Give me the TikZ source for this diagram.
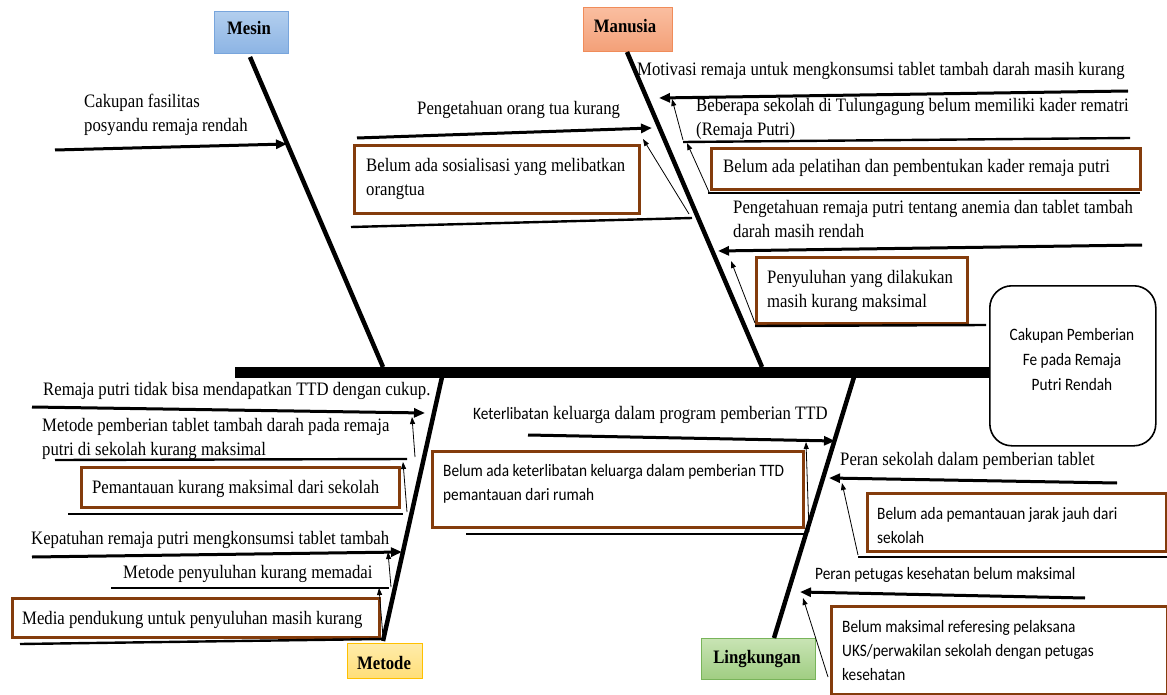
\documentclass[tikz,border=0pt]{standalone}
\usepackage{fontspec}
\setmainfont[FakeStretch=0.88]{Liberation Serif}
\setsansfont[FakeStretch=0.88]{Carlito}
\usetikzlibrary{arrows.meta}
\definecolor{brownb}{RGB}{132,60,12}
\definecolor{blueT}{RGB}{178,206,238}
\definecolor{blueB}{RGB}{140,180,228}
\definecolor{blueD}{RGB}{120,165,220}
\definecolor{orgT}{RGB}{250,190,160}
\definecolor{orgB}{RGB}{243,160,120}
\definecolor{orgD}{RGB}{240,140,90}
\definecolor{yelT}{RGB}{255,236,170}
\definecolor{yelB}{RGB}{255,222,120}
\definecolor{yelD}{RGB}{255,192,0}
\definecolor{grnT}{RGB}{200,228,180}
\definecolor{grnB}{RGB}{160,205,130}
\definecolor{grnD}{RGB}{120,180,90}
\begin{document}
\begin{tikzpicture}[x=1pt,y=-1pt,
  spine/.style={line width=11pt},
  bone/.style={line width=4.5pt},
  causearrow/.style={line width=3pt,-{Triangle[length=11pt,width=9pt]}},
  subline/.style={line width=2.4pt},
  thinarrow/.style={line width=0.8pt,-{Triangle[length=7pt,width=5pt]}},
  bbox/.style={draw=brownb,line width=3pt,fill=white,anchor=north west,inner sep=0pt},
  catbox/.style={line width=1.2pt,anchor=north west,inner sep=0pt},
  cattxt/.style={anchor=base,inner sep=0pt,font=\bfseries\fontsize{19}{24}\selectfont},
  txt/.style={anchor=base west,inner sep=0pt,align=left,font=\fontsize{19}{24}\selectfont},
  stxt/.style={anchor=base west,inner sep=0pt,align=left,font=\sffamily\fontsize{17.4}{24}\selectfont}
]
\useasboundingbox (0,0) rectangle (1167,695);
\fill[white] (0,0) rectangle (1167,695);

% ---------- category boxes ----------
\node[catbox,draw=blueD,top color=blueT,bottom color=blueB,minimum width=74pt,minimum height=42pt] (mesin) at (214,11) {};
\node[cattxt] (mesinT) at (249,35) {Mesin};
\node[catbox,draw=orgD,top color=orgT,bottom color=orgB,minimum width=89pt,minimum height=44pt] (manusia) at (583,7) {};
\node[cattxt] (manusiaT) at (625,33) {Manusia};
\node[catbox,draw=yelD,top color=yelT,bottom color=yelB,minimum width=75pt,minimum height=35pt] (metode) at (347,643) {};
\node[cattxt] (metodeT) at (384,669) {Metode};
\node[catbox,draw=grnD,top color=grnT,bottom color=grnB,minimum width=114pt,minimum height=41pt] (lingk) at (701,638) {};
\node[cattxt] (lingkT) at (757,663) {Lingkungan};

% ---------- head ----------
\node[draw,line width=1.6pt,rounded corners=22pt,anchor=north west,minimum width=166pt,minimum height=160pt,inner sep=0pt] (head) at (989,285) {};
\node[anchor=base,inner sep=0pt,align=center,font=\sffamily\fontsize{17.4}{25}\selectfont] (headT) at (1072,390) {Cakupan Pemberian\\Fe pada Remaja\\Putri Rendah};

% ---------- bone coordinates ----------
\coordinate (m0) at (250,57);  \coordinate (m1) at (383,367);
\coordinate (u0) at (627,52);  \coordinate (u1) at (762,367);
\coordinate (t0) at (383,641); \coordinate (t1) at (442,377);
\coordinate (l0) at (774,638); \coordinate (l1) at (854,377);
\coordinate (sp0) at (235,372); \coordinate (sp1) at (990,372);

\draw[bone] (m0) -- (m1);
\draw[bone] (u0) -- (u1);
\draw[bone] (t0) -- (t1);
\draw[bone] (l0) -- (l1);
\draw[spine] (sp0) -- (sp1);

% ---------- Mesin ----------
\coordinate (a1s) at (55,150); \coordinate (a1e) at (287,144);
\draw[causearrow] (a1s) -- (a1e);
\node[txt] (c1) at (84,132) {Cakupan fasilitas\\posyandu remaja rendah};

% ---------- Manusia left ----------
\coordinate (a2s) at (357,138); \coordinate (a2e) at (652,128);
\draw[causearrow] (a2s) -- (a2e);
\node[txt] (c2) at (417,115) {Pengetahuan orang tua kurang};
\node[bbox,minimum width=285pt,minimum height=68pt] (B2) at (353,144) {};
\node[txt] (c2b) at (366,196) {Belum ada sosialisasi yang melibatkan\\orangtua};
\coordinate (L2s) at (351,227); \coordinate (L2e) at (692,218);
\draw[subline] (L2s) -- (L2e);
\coordinate (t2s) at (689,214); \coordinate (t2e) at (643,139);
\draw[thinarrow] (t2s) -- (t2e);

% ---------- Manusia right ----------
\coordinate (a3s) at (1128,91); \coordinate (a3e) at (659,98);
\draw[causearrow] (a3s) -- (a3e);
\node[txt] (c3) at (637,76) {Motivasi remaja untuk mengkonsumsi tablet tambah darah masih kurang};
\node[txt] (c3a) at (696,136) {Beberapa sekolah di Tulungagung belum memiliki kader rematri\\(Remaja Putri)};
\coordinate (L3s) at (683,142); \coordinate (L3e) at (1130,138);
\draw[subline] (L3s) -- (L3e);
\coordinate (t3s) at (683,140); \coordinate (t3e) at (672,99);
\draw[thinarrow] (t3s) -- (t3e);
\node[bbox,minimum width=429pt,minimum height=41pt] (B3) at (710,147) {};
\node[txt] (c3b) at (723,173) {Belum ada pelatihan dan pembentukan kader remaja putri};
\coordinate (L3bs) at (708,193); \coordinate (L3be) at (1140,193);
\draw[subline] (L3bs) -- (L3be);
\coordinate (t3bs) at (709,192); \coordinate (t3be) at (687,143);
\draw[thinarrow] (t3bs) -- (t3be);

\coordinate (a4s) at (1142,245); \coordinate (a4e) at (718,251);
\draw[causearrow] (a4s) -- (a4e);
\node[txt] (c4) at (733,237) {Pengetahuan remaja putri tentang anemia dan tablet tambah\\darah masih rendah};
\node[bbox,minimum width=211pt,minimum height=66pt] (B4) at (755,256) {};
\node[txt] (c4b) at (767,307) {Penyuluhan yang dilakukan\\masih kurang maksimal};
\coordinate (L4s) at (755,326); \coordinate (L4e) at (986,325);
\draw[subline] (L4s) -- (L4e);
\coordinate (t4s) at (755,323); \coordinate (t4e) at (731,261);
\draw[thinarrow] (t4s) -- (t4e);

% ---------- Metode ----------
\coordinate (a5s) at (32,407); \coordinate (a5e) at (425,413);
\draw[causearrow] (a5s) -- (a5e);
\node[txt] (c5) at (43,395) {Remaja putri tidak bisa mendapatkan TTD dengan cukup.};
\node[txt] (c5a) at (42,455) {Metode pemberian tablet tambah darah pada remaja\\putri di sekolah kurang maksimal};
\coordinate (L5s) at (55,460); \coordinate (L5e) at (407,459);
\draw[subline] (L5s) -- (L5e);
\coordinate (t5s) at (415,457); \coordinate (t5e) at (412,417);
\draw[thinarrow] (t5s) -- (t5e);
\node[bbox,minimum width=318pt,minimum height=40pt] (B5) at (80,466) {};
\node[txt] (c5b) at (92,493) {Pemantauan kurang maksimal dari sekolah};
\coordinate (L5bs) at (68,514); \coordinate (L5be) at (403,514);
\draw[subline] (L5bs) -- (L5be);
\coordinate (t5bs) at (407,512); \coordinate (t5be) at (403,462);
\draw[thinarrow] (t5bs) -- (t5be);

\coordinate (a6s) at (32,557); \coordinate (a6e) at (402,552);
\draw[causearrow] (a6s) -- (a6e);
\node[txt] (c6) at (31,544) {Kepatuhan remaja putri mengkonsumsi tablet tambah};
\node[txt] (c6a) at (123,578) {Metode penyuluhan kurang memadai};
\coordinate (L6s) at (111,588); \coordinate (L6e) at (389,588);
\draw[subline] (L6s) -- (L6e);
\coordinate (t6s) at (391,587); \coordinate (t6e) at (388,552);
\draw[thinarrow] (t6s) -- (t6e);
\node[bbox,minimum width=367pt,minimum height=39pt] (B6) at (11,597) {};
\node[txt] (c6b) at (22,624) {Media pendukung untuk penyuluhan masih kurang};
\coordinate (L6bs) at (20,644); \coordinate (L6be) at (383,639);
\draw[subline] (L6bs) -- (L6be);
\coordinate (t6bs) at (383,637); \coordinate (t6be) at (379,588);
\draw[thinarrow] (t6bs) -- (t6be);

% ---------- Lingkungan left ----------
\coordinate (a7s) at (528,435); \coordinate (a7e) at (835,441);
\draw[causearrow] (a7s) -- (a7e);
\node[txt] (c7) at (473,419) {{\sffamily\fontsize{17.4}{24}\selectfont Keterlibatan} keluarga dalam program pemberian TTD};
\node[bbox,minimum width=371pt,minimum height=76pt] (B7) at (431,450) {};
\node[stxt] (c7b) at (443,500) {Belum ada keterlibatan keluarga dalam pemberian TTD\\pemantauan dari rumah};
\coordinate (L7s) at (466,534); \coordinate (L7e) at (807,534);
\draw[subline] (L7s) -- (L7e);
\coordinate (t7s) at (809,532); \coordinate (t7e) at (806,442);
\draw[thinarrow] (t7s) -- (t7e);

% ---------- Lingkungan right ----------
\coordinate (a8s) at (1117,483); \coordinate (a8e) at (829,478);
\draw[causearrow] (a8s) -- (a8e);
\node[txt] (c8) at (840,465) {Peran sekolah dalam pemberian tablet};
\node[bbox,minimum width=299pt,minimum height=58pt] (B8) at (866,492) {};
\node[stxt] (c8b) at (877,543) {Belum ada pemantauan jarak jauh dari\\sekolah};
\coordinate (L8s) at (858,557); \coordinate (L8e) at (1167,557);
\draw[subline] (L8s) -- (L8e);
\coordinate (t8s) at (858,555); \coordinate (t8e) at (842,483);
\draw[thinarrow] (t8s) -- (t8e);

\coordinate (a9s) at (1085,598); \coordinate (a9e) at (800,592);
\draw[causearrow] (a9s) -- (a9e);
\node[stxt] (c9) at (815,579) {Peran petugas kesehatan belum maksimal};
\node[bbox,minimum width=336pt,minimum height=88pt] (B9) at (830,605) {};
\node[stxt] (c9b) at (842,680) {Belum maksimal referesing pelaksana\\UKS/perwakilan sekolah dengan petugas\\kesehatan};
\coordinate (t9s) at (828,677); \coordinate (t9e) at (803,598);
\draw[thinarrow] (t9s) -- (t9e);
\end{tikzpicture}
\end{document}
